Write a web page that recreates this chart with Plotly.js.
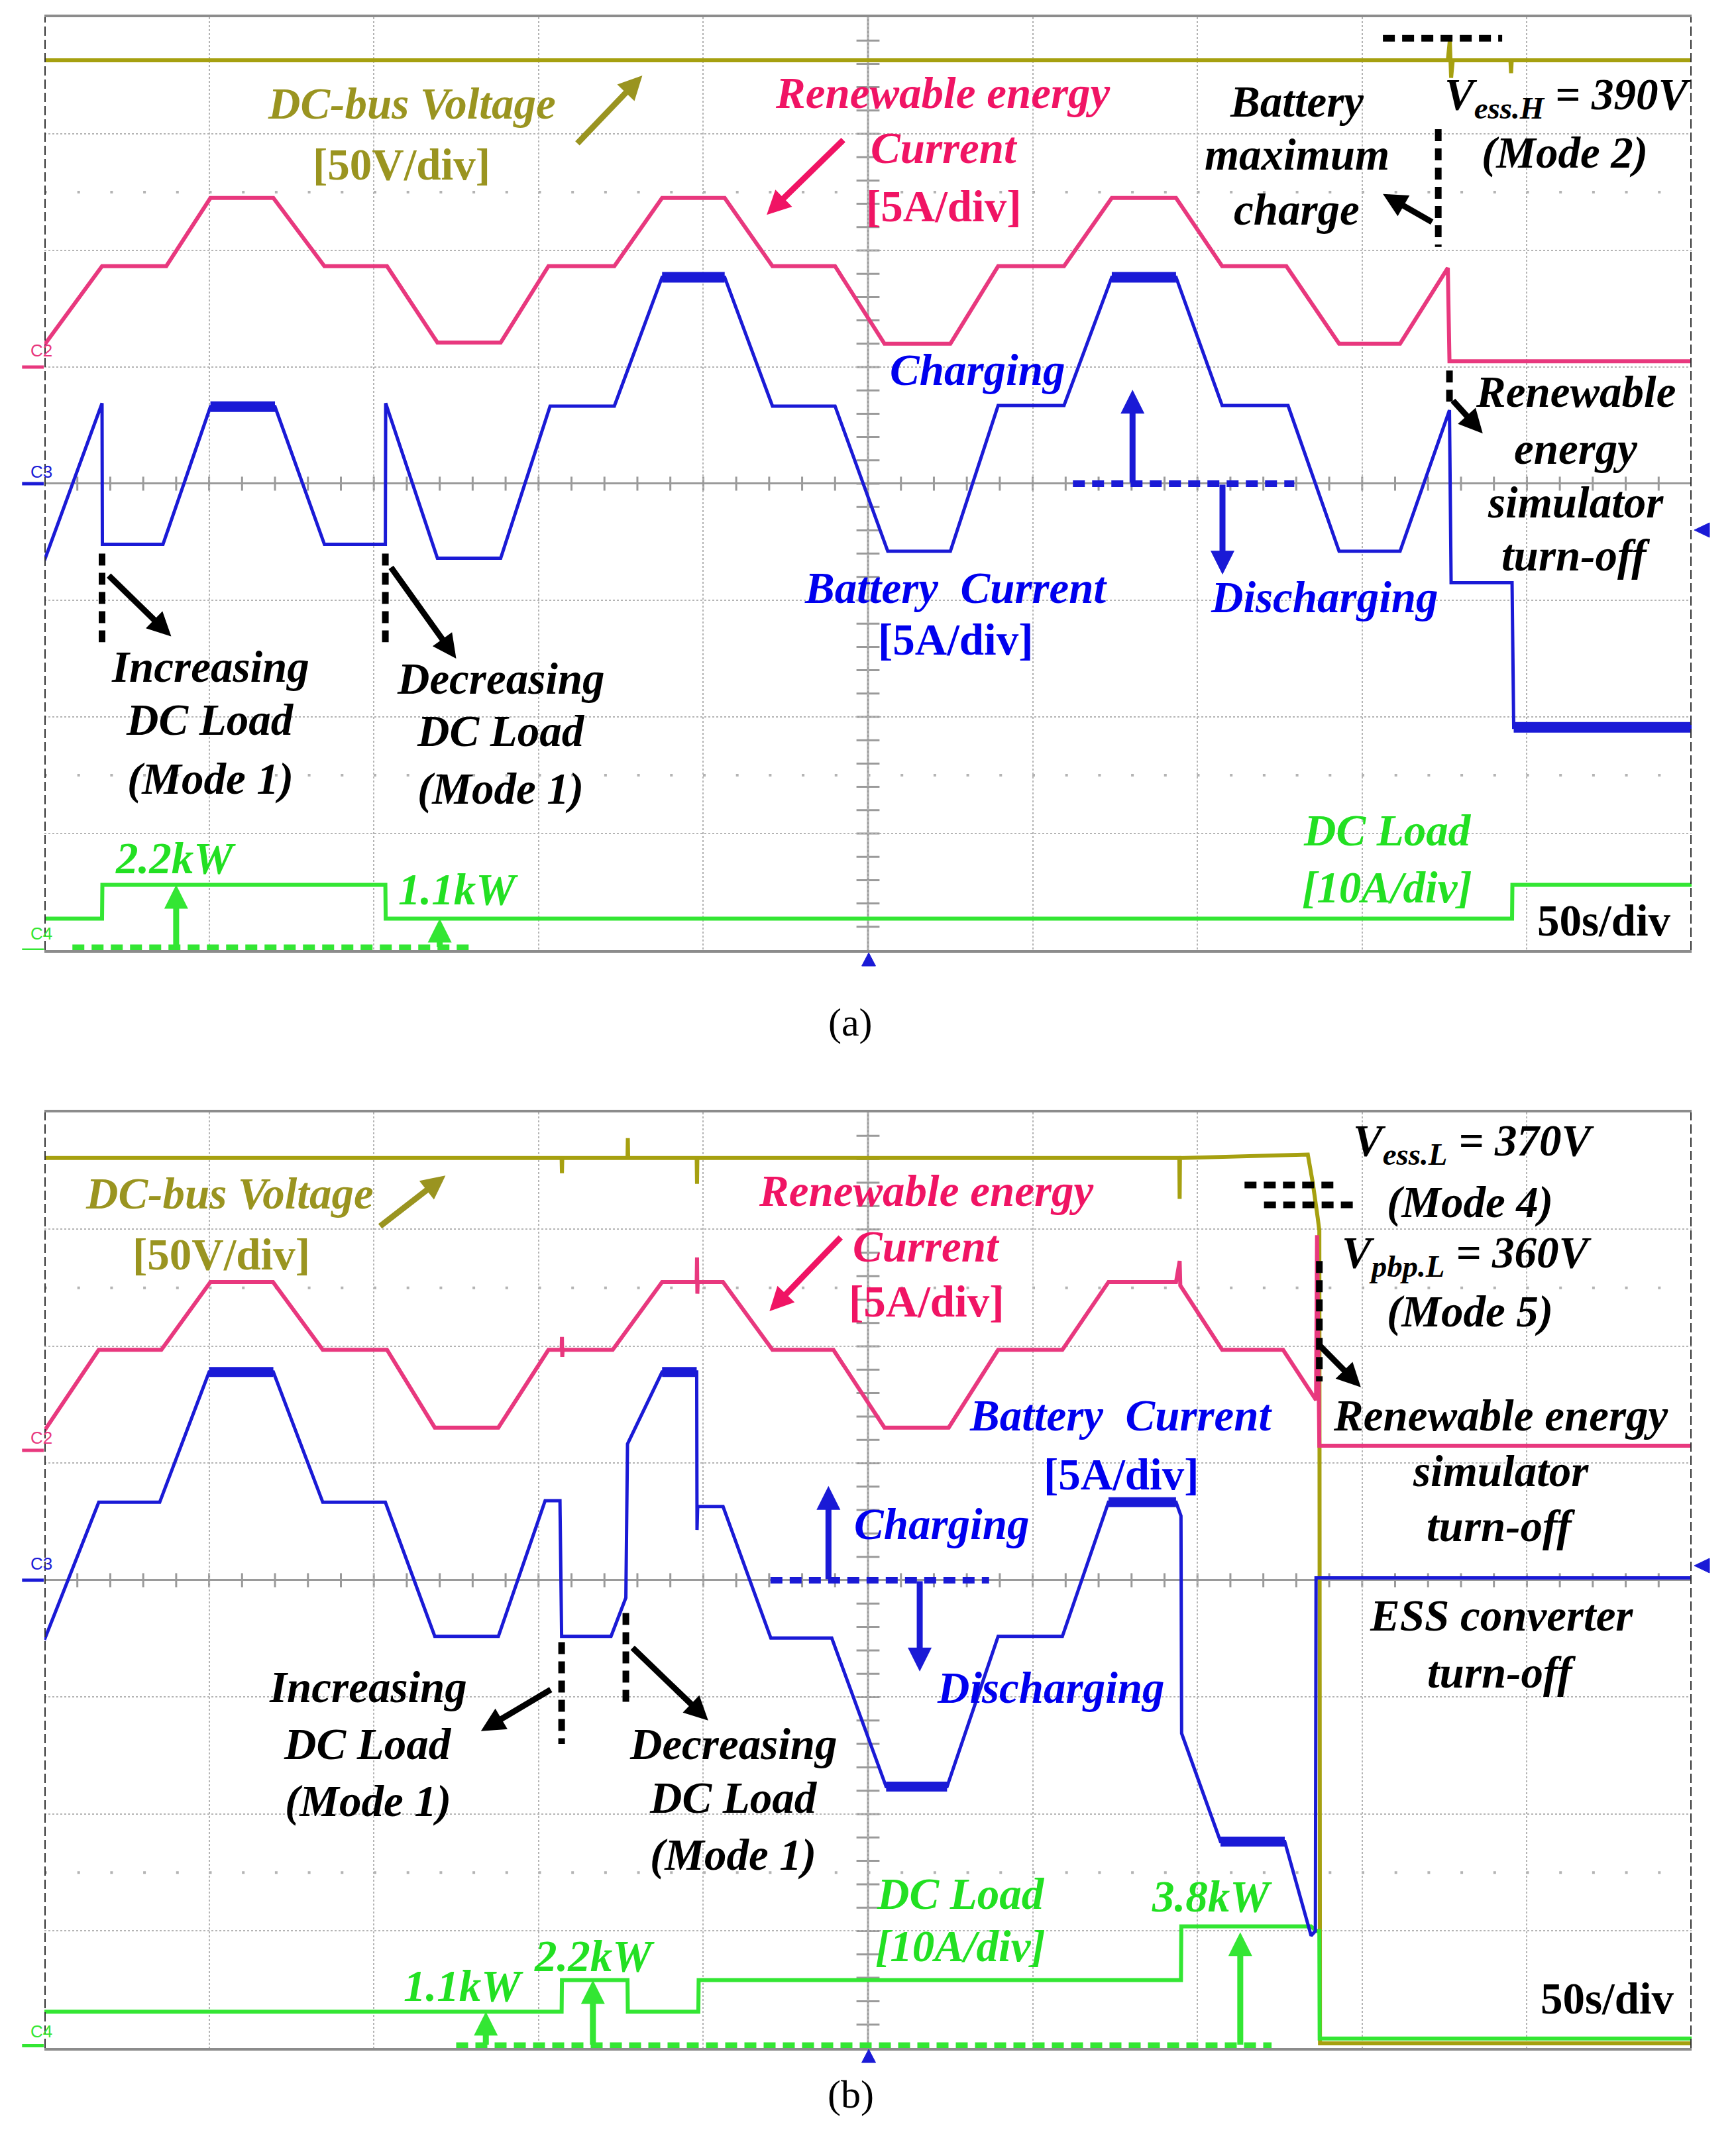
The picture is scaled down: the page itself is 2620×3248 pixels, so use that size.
<!DOCTYPE html>
<html>
<head>
<meta charset="utf-8">
<script src="https://cdn.plot.ly/plotly-3.0.1.min.js"></script>
<style>
  body { margin: 0; background: #fff; }
  #chart { width: 2620px; height: 3248px; }
</style>
</head>
<body>
<div id="chart"></div>
<script>
// time in s (50 s/div), amplitudes in screen divisions (8 div tall, 0 = C3 centre line)

// ---- (a) ----
var tA_bus = [0, 426, 426.6, 427, 427.5, 445, 445.2, 445.4, 500];
var vA_bus = [3.63, 3.63, 3.80, 3.48, 3.63, 3.63, 3.52, 3.63, 3.63];

var tA_ren = [0, 17.5, 37, 50.4, 69.5, 85, 104, 119.3, 138.5, 153, 173, 187.5, 206.5, 221, 240, 255, 275, 289.5, 309.5, 324, 343.5, 357.5, 377, 393, 411.5, 426, 426.5, 500];
var iA_ren = [1.19, 1.865, 1.865, 2.45, 2.45, 1.865, 1.865, 1.21, 1.21, 1.865, 1.865, 2.45, 2.45, 1.865, 1.865, 1.2, 1.2, 1.865, 1.865, 2.45, 2.45, 1.865, 1.865, 1.2, 1.2, 1.85, 1.05, 1.05];

var tA_bat = [0, 17.5, 17.6, 36, 50.4, 70, 85, 103.5, 103.6, 119.3, 138.5, 153.5, 173, 187.5, 206.5, 221, 240, 256, 275, 289.5, 309.5, 324, 343.5, 357.5, 377.5, 393, 411.5, 426.5, 427, 445.5, 446, 500];
var iA_bat = [-0.66, 0.69, -0.52, -0.52, 0.66, 0.66, -0.52, -0.52, 0.69, -0.64, -0.64, 0.665, 0.665, 1.77, 1.77, 0.665, 0.665, -0.58, -0.58, 0.67, 0.67, 1.77, 1.77, 0.67, 0.67, -0.58, -0.58, 0.63, -0.85, -0.85, -2.09, -2.09];
// noisy plateaus (ripple band)
var tA_rip = [50.4, 70, null, 187.5, 206.5, null, 324, 343.5, null, 446, 500];
var iA_rip = [0.66, 0.66, null, 1.77, 1.77, null, 1.77, 1.77, null, -2.09, -2.09];

var tA_load = [0, 17.5, 17.6, 103.5, 103.6, 445.5, 445.6, 500];
var iA_load = [-3.73, -3.73, -3.44, -3.44, -3.73, -3.73, -3.44, -3.44];

// ---- (b) ----
var tB_bus = [0, 157, 157.1, 157.2, 177, 177.1, 177.2, 198, 198.1, 198.2, 344.5, 344.6, 344.7, 383.5, 385, 386.5, 387, 387.2, 500];
var vB_bus = [3.61, 3.61, 3.48, 3.61, 3.61, 3.78, 3.61, 3.61, 3.39, 3.61, 3.61, 3.26, 3.61, 3.64, 3.4, 3.1, 2.99, -3.96, -3.96];

var tB_ren = [0, 16.5, 35.5, 50.4, 69.4, 84.5, 104, 118.5, 137.8, 153, 157, 157.1, 157.2, 157.3, 172.5, 187.5, 198, 198.1, 198.2, 198.3, 206, 221, 239.5, 255, 274.5, 289.5, 309, 323, 343.5, 344.6, 344.8, 357.5, 376, 386, 386.3, 387, 500];
var iB_ren = [1.278, 1.97, 1.97, 2.55, 2.55, 1.97, 1.97, 1.305, 1.305, 1.97, 1.97, 2.08, 1.91, 1.97, 1.97, 2.55, 2.55, 2.76, 2.45, 2.55, 2.55, 1.97, 1.97, 1.305, 1.305, 1.97, 1.97, 2.55, 2.55, 2.73, 2.52, 1.97, 1.97, 1.54, 2.95, 1.15, 1.15];

var tB_bat = [0, 16.5, 35, 50, 69.5, 84.5, 103.5, 118.5, 137.8, 152, 156.5, 157, 172, 176.5, 177, 187.5, 198, 198.1, 198.3, 206, 220.5, 239, 255.5, 274, 289.5, 309, 323, 343.5, 345, 345.2, 357, 376.5, 384.5, 385.8, 386, 500];
var iB_bat = [-0.51, 0.667, 0.667, 1.78, 1.78, 0.667, 0.667, -0.48, -0.48, 0.68, 0.68, -0.48, -0.48, -0.15, 1.165, 1.78, 1.78, 0.43, 0.63, 0.63, -0.495, -0.495, -1.765, -1.765, -0.48, -0.48, 0.667, 0.667, 0.55, -1.31, -2.235, -2.235, -3.04, -3.0, 0.02, 0.02];
var tB_rip = [50, 69.5, null, 187.5, 198, null, 255.5, 274, null, 323, 343.5, null, 357, 376.5];
var iB_rip = [1.78, 1.78, null, 1.78, 1.78, null, -1.765, -1.765, null, 0.667, 0.667, null, -2.235, -2.235];

var tB_load = [0, 157, 157.1, 177, 177.1, 198.5, 198.6, 345, 345.1, 384.5, 386, 387, 387.1, 500];
var iB_load = [-3.69, -3.69, -3.42, -3.42, -3.69, -3.69, -3.42, -3.42, -2.96, -2.96, -3.0, -3.0, -3.92, -3.92];

// colours
var OLIVE = '#a6a010', OLIVE_TXT = '#9a9420';
var PINK = '#e8387e', PINK_TXT = '#f01464';
var BLUE = '#1a1ad6', BLUE_TXT = '#0000ee';
var GREEN = '#33e633', GREEN_TXT = '#22e022';
var SERIF = 'Liberation Serif, Times New Roman, serif';

function line(x, y, col, w, p) {
  return {x: x, y: y, type: 'scatter', mode: 'lines', line: {color: col, width: w},
    xaxis: 'x' + p, yaxis: 'y' + p, hoverinfo: 'skip'};
}

var data = [
  line(tA_bus, vA_bus, OLIVE, 6, ''),
  line(tA_load, iA_load, GREEN, 6, ''),
  line(tA_ren, iA_ren, PINK, 6, ''),
  line(tA_bat, iA_bat, BLUE, 5, ''),
  line(tA_rip, iA_rip, BLUE, 16, ''),
  line(tB_bus, vB_bus, OLIVE, 6, '2'),
  line(tB_load, iB_load, GREEN, 6, '2'),
  line(tB_ren, iB_ren, PINK, 6, '2'),
  line(tB_bat, iB_bat, BLUE, 5, '2'),
  line(tB_rip, iB_rip, BLUE, 15, '2')
];

var ann = [], shp = [];

function txt(p, x, y, s, col, upright) {
  ann.push({xref: 'x' + p, yref: 'y' + p, x: x, y: y, text: s, showarrow: false,
    font: {family: SERIF, size: 67, color: col, weight: 'bold', style: upright ? 'normal' : 'italic'}});
}
function arrow(p, ax, ay, x, y, col) {
  ann.push({xref: 'x' + p, yref: 'y' + p, axref: 'x' + p, ayref: 'y' + p,
    x: x, y: y, ax: ax, ay: ay, text: '', showarrow: true,
    arrowhead: 2, arrowsize: 0.8, arrowwidth: 9, arrowcolor: col});
}
function dash(p, x0, y0, x1, y1, col) {
  shp.push({type: 'line', xref: 'x' + p, yref: 'y' + p, x0: x0, y0: y0, x1: x1, y1: y1,
    line: {color: col, width: 10, dash: '18px,11px'}});
}
function chan(p, name, yText, yMark, col) {
  ann.push({xref: 'paper', yref: 'y' + p, x: 0.0168, y: yText, text: name, showarrow: false,
    font: {family: 'Liberation Sans, Arial, sans-serif', size: 26, color: col}});
  shp.push({type: 'line', xref: 'paper', yref: 'y' + p, x0: 0.0127, x1: 0.0252, y0: yMark, y1: yMark,
    line: {color: col, width: 5}});
}
// scope position markers (small blue triangles outside the frame), paper units
function tri(path) {
  shp.push({type: 'path', xref: 'paper', yref: 'paper', path: path,
    fillcolor: BLUE, line: {color: BLUE, width: 1}});
}

// scope graticule extras: centre cross with ticks, sparse dot rows, dashed side edges
function scopeGrid(p) {
  var xr = 'x' + p, yr = 'y' + p;
  var g = {color: '#9a9a9a', width: 3};
  shp.push({type: 'line', xref: xr, yref: yr, x0: 250, x1: 250, y0: -4, y1: 4, line: g, layer: 'below'});
  for (var t = 10; t < 500; t += 10) {
    shp.push({type: 'line', xref: xr, yref: yr, x0: t, x1: t, y0: -0.06, y1: 0.06, line: g, layer: 'below'});
  }
  for (var k = -19; k <= 19; k++) {
    shp.push({type: 'line', xref: xr, yref: yr, x0: 246.5, x1: 253.5, y0: k * 0.2, y1: k * 0.2, line: g, layer: 'below'});
  }
  [-2.5, 2.5].forEach(function (v) {
    shp.push({type: 'line', xref: xr, yref: yr, x0: 0, x1: 500, y0: v, y1: v,
      line: {color: '#b4b4b4', width: 4, dash: '4px,45.7px'}, layer: 'below'});
  });
  [0, 500].forEach(function (t) {
    shp.push({type: 'line', xref: xr, yref: yr, x0: t, x1: t, y0: -4, y1: 4,
      line: {color: '#333333', width: 4, dash: '14px,6px'}});
  });
}
scopeGrid('');
scopeGrid('2');

chan('', 'C2', 1.14, 1.0, PINK);
chan('', 'C3', 0.10, 0, BLUE);
chan('', 'C4', -3.86, -4.0, GREEN);
chan('2', 'C2', 1.22, 1.11, PINK);
chan('2', 'C3', 0.14, 0, BLUE);
chan('2', 'C4', -3.86, -3.98, GREEN);

tri('M 0.4964 0.55111 L 0.5044 0.55111 L 0.5004 0.55727 Z');
tri('M 0.4964 0.04156 L 0.5044 0.04156 L 0.5004 0.04772 Z');
tri('M 0.97595 0.75369 L 0.98473 0.75708 L 0.98473 0.75030 Z');
tri('M 0.97595 0.27247 L 0.98473 0.27586 L 0.98473 0.26908 Z');

// ---- annotations (a) ----
txt('', 111.5, 3.26, 'DC-bus Voltage', OLIVE_TXT);
txt('', 108.5, 2.74, '[50V/div]', OLIVE_TXT, true);
arrow('', 161.5, 2.91, 181.5, 3.50, OLIVE_TXT);
txt('', 272.7, 3.35, 'Renewable energy', PINK_TXT);
txt('', 273.1, 2.88, 'Current', PINK_TXT);
txt('', 273, 2.38, '[5A/div]', PINK_TXT, true);
arrow('', 242.8, 2.956, 219.25, 2.305, PINK_TXT);
txt('', 380.2, 3.28, 'Battery', '#000');
txt('', 380.2, 2.826, 'maximum', '#000');
txt('', 380.2, 2.353, 'charge', '#000');
arrow('', 421.5, 2.239, 406.3, 2.484, '#000');
txt('', 462.3, 3.315, 'V<sub>ess.H</sub> = 390V', '#000');
txt('', 461.5, 2.84, '(Mode 2)', '#000');
dash('', 406.3, 3.82, 442.5, 3.82, '#000');
dash('', 423.1, 3.04, 423.1, 2.03, '#000');
txt('', 283.1, 0.98, 'Charging', BLUE_TXT);
dash('', 312.2, 0, 379.4, 0, BLUE);
arrow('', 330.3, 0, 330.3, 0.805, BLUE);
arrow('', 357.6, 0, 357.6, -0.78, BLUE);
txt('', 276.7, -0.89, 'Battery\u00a0\u00a0Current', BLUE_TXT);
txt('', 276.7, -1.335, '[5A/div]', BLUE_TXT, true);
txt('', 388.5, -0.97, 'Discharging', BLUE_TXT);
txt('', 464.8, 0.79, 'Renewable', '#000');
txt('', 464.8, 0.30, 'energy', '#000');
txt('', 464.8, -0.158, 'simulator', '#000');
txt('', 464.8, -0.614, 'turn-off', '#000');
dash('', 426.5, 0.97, 426.5, 0.69, '#000');
arrow('', 427.3, 0.72, 436.6, 0.43, '#000');
dash('', 17.5, -0.6, 17.5, -1.36, '#000');
arrow('', 19.25, -0.78, 38.5, -1.31, '#000');
txt('', 50.3, -1.57, 'Increasing', '#000');
txt('', 50.3, -2.02, 'DC Load', '#000');
txt('', 50.3, -2.53, '(Mode 1)', '#000');
dash('', 103.5, -0.6, 103.5, -1.36, '#000');
arrow('', 105, -0.71, 125, -1.50, '#000');
txt('', 138.5, -1.668, 'Decreasing', '#000');
txt('', 138.5, -2.12, 'DC Load', '#000');
txt('', 138.5, -2.615, '(Mode 1)', '#000');
txt('', 39.8, -3.21, '2.2kW', GREEN_TXT);
txt('', 125.6, -3.48, '1.1kW', GREEN_TXT);
dash('', 8.5, -3.98, 129.5, -3.98, GREEN);
arrow('', 40, -3.98, 40, -3.44, GREEN);
arrow('', 120, -3.98, 120, -3.73, GREEN);
txt('', 407.6, -2.97, 'DC Load', GREEN_TXT);
txt('', 407.6, -3.46, '[10A/div]', GREEN_TXT);
txt('', 473.5, -3.746, '50s/div', '#000', true);

// ---- annotations (b) ----
txt('2', 56.2, 3.31, 'DC-bus Voltage', OLIVE_TXT);
txt('2', 53.7, 2.79, '[50V/div]', OLIVE_TXT, true);
arrow('2', 101.6, 3.02, 121.75, 3.46, OLIVE_TXT);
txt('2', 267.7, 3.33, 'Renewable energy', PINK_TXT);
txt('2', 267.7, 2.857, 'Current', PINK_TXT);
txt('2', 267.7, 2.385, '[5A/div]', PINK_TXT, true);
arrow('2', 242, 2.94, 220.1, 2.30, PINK_TXT);
txt('2', 434, 3.735, 'V<sub>ess.L</sub> = 370V', '#000');
txt('2', 432.7, 3.23, '(Mode 4)', '#000');
txt('2', 431.9, 2.775, 'V<sub>pbp.L</sub> = 360V', '#000');
txt('2', 432.7, 2.30, '(Mode 5)', '#000');
dash('2', 364.3, 3.38, 392, 3.38, '#000');
dash('2', 370.2, 3.21, 397.9, 3.21, '#000');
dash('2', 387, 2.73, 387, 1.70, '#000');
arrow('2', 387, 2.01, 399.6, 1.65, '#000');
txt('2', 442, 1.41, 'Renewable energy', '#000');
txt('2', 442, 0.937, 'simulator', '#000');
txt('2', 442, 0.465, 'turn-off', '#000');
txt('2', 326.9, 1.41, 'Battery\u00a0\u00a0Current', BLUE_TXT);
txt('2', 326.9, 0.905, '[5A/div]', BLUE_TXT, true);
txt('2', 272.4, 0.48, 'Charging', BLUE_TXT);
dash('2', 220.4, 0, 286.75, 0, BLUE);
arrow('2', 238, 0, 238, 0.806, BLUE);
arrow('2', 265.7, 0, 265.7, -0.78, BLUE);
txt('2', 442.2, -0.30, 'ESS converter', '#000');
txt('2', 442.2, -0.79, 'turn-off', '#000');
txt('2', 305.6, -0.92, 'Discharging', BLUE_TXT);
dash('2', 157, -0.53, 157, -1.40, '#000');
arrow('2', 154, -0.93, 132.5, -1.29, '#000');
txt('2', 98.2, -0.91, 'Increasing', '#000');
txt('2', 98.2, -1.40, 'DC Load', '#000');
txt('2', 98.2, -1.89, '(Mode 1)', '#000');
dash('2', 176.5, -0.28, 176.5, -1.06, '#000');
arrow('2', 178.25, -0.57, 201.5, -1.20, '#000');
txt('2', 209.1, -1.40, 'Decreasing', '#000');
txt('2', 209.1, -1.86, 'DC Load', '#000');
txt('2', 209.1, -2.35, '(Mode 1)', '#000');
txt('2', 278.1, -2.68, 'DC Load', GREEN_TXT);
txt('2', 278.1, -3.125, '[10A/div]', GREEN_TXT);
txt('2', 354.4, -2.70, '3.8kW', GREEN_TXT);
txt('2', 127.3, -3.47, '1.1kW', GREEN_TXT);
txt('2', 166.9, -3.21, '2.2kW', GREEN_TXT);
dash('2', 125, -3.98, 372.5, -3.98, GREEN);
arrow('2', 134, -3.98, 134, -3.69, GREEN);
arrow('2', 166.5, -3.98, 166.5, -3.42, GREEN);
arrow('2', 363, -3.98, 363, -3.01, GREEN);
txt('2', 474.4, -3.575, '50s/div', '#000', true);

// panel captions
ann.push({xref: 'paper', yref: 'paper', x: 0.490, y: 0.525, text: '(a)', showarrow: false,
  font: {family: SERIF, size: 60, color: '#000'}});
ann.push({xref: 'paper', yref: 'paper', x: 0.490, y: 0.016, text: '(b)', showarrow: false,
  font: {family: SERIF, size: 60, color: '#000'}});

function xax(anchor) {
  return {domain: [0.02557, 0.97443], range: [0, 500], anchor: anchor, dtick: 50, tick0: 0,
    showgrid: true, gridcolor: '#b4b4b4', griddash: 'dot', gridwidth: 2,
    showticklabels: false, ticks: '', zeroline: false,
    showline: true, mirror: true, linecolor: '#8c8c8c', linewidth: 4, fixedrange: true};
}
function yax(dom, anchor) {
  return {domain: dom, range: [-4, 4], anchor: anchor, dtick: 1, tick0: 0,
    showgrid: true, gridcolor: '#b4b4b4', griddash: 'dot', gridwidth: 2,
    showticklabels: false, ticks: '', zeroline: true, zerolinecolor: '#9a9a9a', zerolinewidth: 3,
    showline: false, fixedrange: true};
}

var layout = {
  width: 2620, height: 3248,
  margin: {l: 0, r: 0, t: 0, b: 0},
  paper_bgcolor: '#fff', plot_bgcolor: '#fff',
  showlegend: false,
  xaxis: xax('y'), yaxis: yax([0.55850, 0.99200], 'x'),
  xaxis2: xax('y2'), yaxis2: yax([0.04834, 0.48307], 'x2'),
  annotations: ann,
  shapes: shp
};

Plotly.newPlot('chart', data, layout, {staticPlot: true});
</script>
</body>
</html>
